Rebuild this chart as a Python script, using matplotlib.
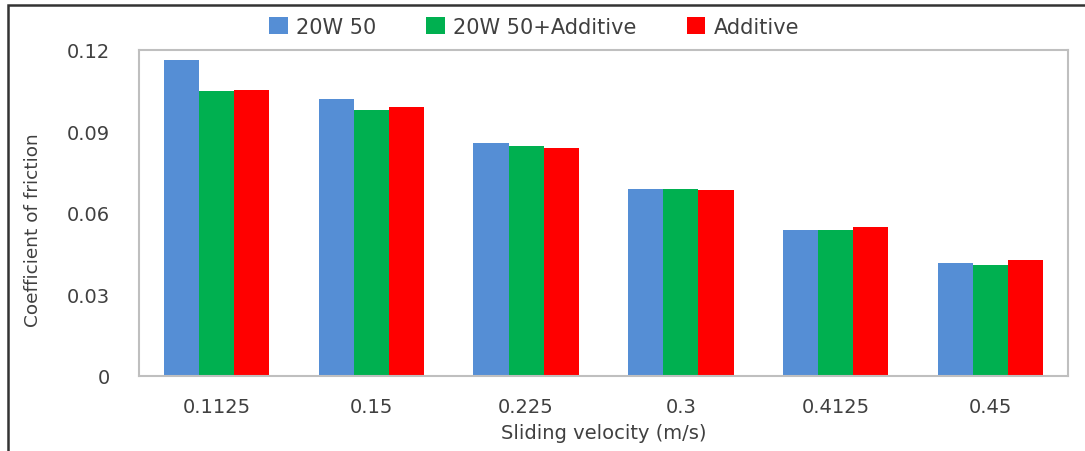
import matplotlib
matplotlib.use("Agg")
import matplotlib.pyplot as plt
import matplotlib.patches as mpatches
import numpy as np

# data
velocity = ["0.1125", "0.15", "0.225", "0.3", "0.4125", "0.45"]
oil = [0.1164, 0.1018, 0.0857, 0.0688, 0.0537, 0.0415]
oil_additive = [0.1048, 0.0979, 0.0845, 0.0688, 0.0537, 0.0410]
additive = [0.1053, 0.0991, 0.0839, 0.0683, 0.0548, 0.0427]
series_names = ["20W 50", "20W 50+Additive", "Additive"]
y_ticks = [0, 0.03, 0.06, 0.09, 0.12]
y_tick_labels = ["0", "0.03", "0.06", "0.09", "0.12"]

C_BLUE = "#558ED5"
C_GREEN = "#00B050"
C_RED = "#FF0000"
C_TEXT = "#404040"
C_FRAME = "#BFBFBF"

fig = plt.figure(figsize=(10.85, 4.52), dpi=100)
ax = fig.add_axes([139 / 1085, 75 / 452, 929 / 1085, 326 / 452])

x = np.arange(len(velocity))
w = 0.227
ax.bar(x - w, oil, w, color=C_BLUE, label=series_names[0])
ax.bar(x, oil_additive, w, color=C_GREEN, label=series_names[1])
ax.bar(x + w, additive, w, color=C_RED, label=series_names[2])

ax.set_xlim(-0.5, len(velocity) - 0.5)
ax.set_ylim(0, 0.12)
ax.set_xticks(x)
ax.set_xticklabels(velocity)
ax.set_yticks(y_ticks)
ax.set_yticklabels(y_tick_labels)
ax.tick_params(axis="both", length=0, labelsize=14, colors=C_TEXT)
ax.tick_params(axis="x", pad=15)
ax.tick_params(axis="y", pad=21)

for s in ax.spines.values():
    s.set_color(C_FRAME)
    s.set_linewidth(1.5)

ax.set_xlabel("Sliding velocity (m/s)", fontsize=14, color=C_TEXT, labelpad=5)
ax.set_ylabel("Coefficient of friction", fontsize=13.3, color=C_TEXT)
ax.yaxis.set_label_coords(-0.104, 0.45)

fig.legend(loc="center", bbox_to_anchor=(534 / 1085, 1 - 28 / 452), ncol=3,
           frameon=False, fontsize=15, handlelength=0.9, handleheight=0.9,
           handletextpad=0.4, columnspacing=2.4, labelcolor=C_TEXT)

# outer border of the figure (only top and left visible)
border = mpatches.Rectangle((8 / 1085, -0.1), 1.2, 1.1 - 6 / 452,
                            transform=fig.transFigure, fill=False,
                            edgecolor="#333333", linewidth=1.8)
fig.patches.append(border)

fig.savefig("out.png", dpi=100, facecolor="white")
